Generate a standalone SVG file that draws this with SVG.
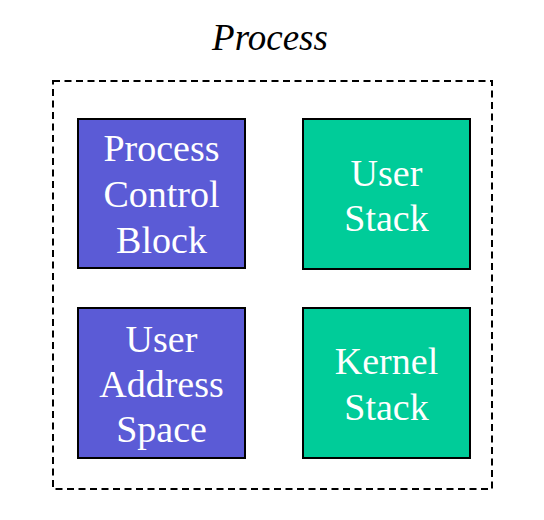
<svg xmlns="http://www.w3.org/2000/svg" width="544" height="520" viewBox="0 0 544 520">
<style>
.box{stroke:#000;stroke-width:2}
.blue{fill:#5B5BD6}
.green{fill:#00CC99}
.lbl{font-family:"Liberation Serif","Times New Roman",serif;font-size:38px;fill:#fff;text-anchor:middle}
.title{font-family:"Liberation Serif","Times New Roman",serif;font-size:37px;font-style:italic;fill:#000;text-anchor:middle}
.frame{fill:none;stroke:#000;stroke-width:2;stroke-dasharray:7 4.5}
</style>
<rect width="544" height="520" fill="#fff"/>
<g id="process">
<rect class="frame" x="53" y="81" width="439" height="408"/>
<text class="title" x="270" y="50">Process</text>
</g>
<g id="pcb">
<rect class="box blue" x="78" y="119" width="167" height="149"/>
<text class="lbl" x="161.5" y="161">Process</text>
<text class="lbl" x="161.5" y="207">Control</text>
<text class="lbl" x="161.5" y="253">Block</text>
</g>
<g id="user-stack">
<rect class="box green" x="303" y="119" width="167" height="150"/>
<text class="lbl" x="386.5" y="186">User</text>
<text class="lbl" x="386.5" y="231">Stack</text>
</g>
<g id="user-address-space">
<rect class="box blue" x="78" y="308" width="167" height="150"/>
<text class="lbl" x="161.5" y="352">User</text>
<text class="lbl" x="161.5" y="397">Address</text>
<text class="lbl" x="161.5" y="442">Space</text>
</g>
<g id="kernel-stack">
<rect class="box green" x="303" y="308" width="167" height="150"/>
<text class="lbl" x="386.5" y="374">Kernel</text>
<text class="lbl" x="386.5" y="420">Stack</text>
</g>
<g id="connectors"/>
</svg>
